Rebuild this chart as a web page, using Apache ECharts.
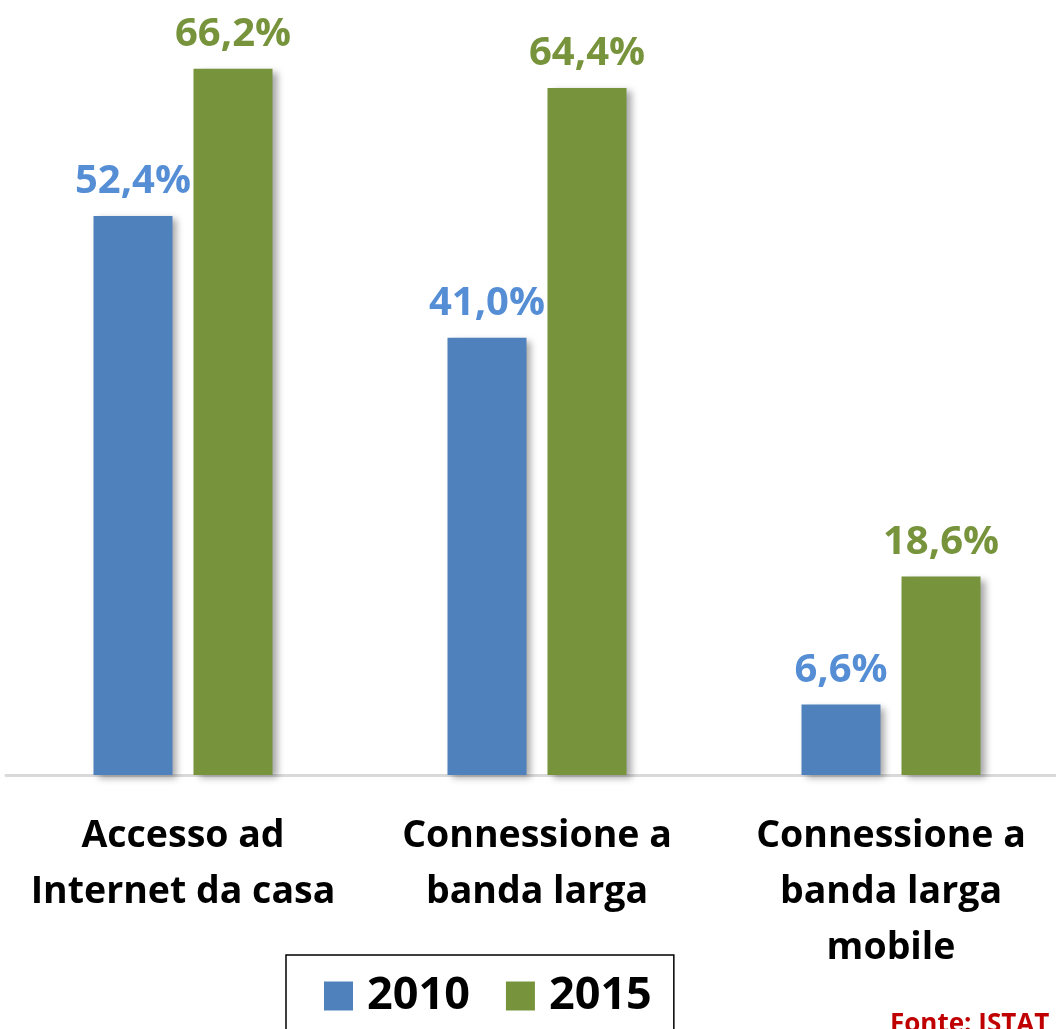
<!DOCTYPE html>
<html><head><meta charset="utf-8">
<script src="https://cdn.jsdelivr.net/npm/echarts@6/dist/echarts.min.js"></script>
<style>html,body{margin:0;padding:0;background:#fff;overflow:hidden;width:1056px;height:1029px}#c{width:1068px;height:1029px}</style>
</head><body><div id="c"></div>
<script>
const categories = ['Accesso ad\nInternet da casa', 'Connessione a\nbanda larga', 'Connessione a\nbanda larga\nmobile'];
const seriesNames = ['2010', '2015'];
const values2010 = [52.4, 41.0, 6.6];
const values2015 = [66.2, 64.4, 18.6];
const sourceText = 'Fonte: ISTAT';

const FONT = '"Open Sans", sans-serif';
const chart = echarts.init(document.getElementById('c'), null, {renderer: 'canvas'});
function fmt(p){ return p.value.toFixed(1).replace('.', ',') + '%'; }
const shadow = {shadowBlur: 7, shadowOffsetX: 5, shadowOffsetY: 3, shadowColor: 'rgba(0,0,0,0.35)'};
chart.setOption({
  animation: false,
  backgroundColor: '#ffffff',
  grid: {left: 6, top: 7, right: 0, height: 768, containLabel: false},
  xAxis: {
    type: 'category', data: categories,
    axisLine: {lineStyle: {color: '#D9D9D9', width: 3}},
    axisTick: {show: false},
    axisLabel: {color: '#000', fontFamily: FONT, fontWeight: 'bold', fontSize: 37.5, lineHeight: 56, margin: 33, interval: 0}
  },
  yAxis: {type: 'value', min: 0, max: 72, show: false, splitLine: {show: false}},
  legend: {
    data: seriesNames, left: 286, top: 955,
    orient: 'horizontal',
    borderColor: '#000', borderWidth: 1.5,
    padding: [16, 22, 40, 38],
    itemWidth: 29, itemHeight: 29, itemGap: 36,
    icon: 'rect',
    textStyle: {color: '#000', fontFamily: FONT, fontWeight: 'bold', fontSize: 45, lineHeight: 50, padding: [0, 0, 0, 9]}
  },
  series: [
    {name: '2010', type: 'bar', data: values2010, barWidth: 79, barGap: '26.6%',
     itemStyle: Object.assign({color: '#4F81BD'}, shadow),
     label: {show: true, position: 'top', distance: 14, formatter: fmt, color: '#558ED5', fontFamily: FONT, fontWeight: 'bold', fontSize: 40}},
    {name: '2015', type: 'bar', data: values2015, barWidth: 79,
     itemStyle: Object.assign({color: '#77933C'}, shadow),
     label: {show: true, position: 'top', distance: 14, formatter: fmt, color: '#77933C', fontFamily: FONT, fontWeight: 'bold', fontSize: 40}}
  ],
  graphic: [{type: 'text', left: 890, top: 1012, style: {text: sourceText, fill: '#C00000', font: 'bold 26px "Open Sans", sans-serif'}}]
});
</script></body></html>
